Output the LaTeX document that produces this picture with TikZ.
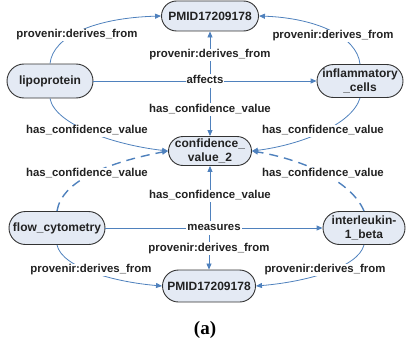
\documentclass[tikz,border=0pt]{standalone}
\usepackage{fontspec}
\setmainfont{Liberation Sans}
\newfontfamily\capfont{Liberation Serif}
\usetikzlibrary{arrows.meta,shapes.misc}
\definecolor{edgeblue}{RGB}{79,129,189}
\definecolor{nodefill}{RGB}{228,234,244}
\definecolor{txt}{RGB}{34,34,34}
\begin{document}
\begin{tikzpicture}[x=1pt,y=-1pt,
  box/.style={rounded rectangle, draw=black!80, line width=0.9pt, fill=nodefill,
    font=\fontsize{12}{14}\selectfont\bfseries, text=txt, align=center, inner sep=0pt},
  lbl/.style={fill=white, inner sep=1pt, text height=8pt, text depth=2.5pt,
    font=\fontsize{11.4}{12}\selectfont\bfseries, text=txt},
  edge/.style={draw=edgeblue, line width=0.8pt, -{Triangle[length=6pt,width=5pt]}},
  hedge/.style={edge, line width=1pt},
  dashedge/.style={edge, line width=1.4pt, dash pattern=on 9pt off 6pt}
]
\useasboundingbox (0,0) rectangle (406,345);

% nodes
\node[box, minimum width=97pt, minimum height=30pt] (pmidT) at (210,16) {PMID17209178};
\node[box, minimum width=86pt, minimum height=34pt] (lipo) at (50,81) {lipoprotein};
\node[box, minimum width=86pt, minimum height=33pt] (infl) at (360,81) {inflammatory\\\_cells};
\node[box, minimum width=78pt, minimum height=29pt] (conf) at (210,151) {confidence\_\\value\_2};
\node[box, minimum width=96pt, minimum height=33pt] (flow) at (57,228) {flow\_cytometry};
\node[box, minimum width=82pt, minimum height=33pt] (ilb) at (364,228) {interleukin-\\1\_beta};
\node[box, minimum width=93pt, minimum height=32pt] (pmidB) at (209,286) {PMID17209178};

% curved edges
\draw[edge] (lipo.north) .. controls (53,36) and (95,18) .. (pmidT.west);
\draw[edge] (infl.north) .. controls (357,36) and (315,18) .. (pmidT.east);
\draw[edge] (lipo.south) .. controls (55,125) and (115,145) .. (conf.west);
\draw[edge] (infl.south) .. controls (352,125) and (300,145) .. (conf.east);
\draw[dashedge] (flow.north) .. controls (62,180) and (110,162) .. (conf.west);
\draw[dashedge] (ilb.north) .. controls (352,182) and (305,160) .. (conf.east);
\draw[edge] (flow.south) .. controls (62,268) and (115,282) .. (pmidB.west);
\draw[edge] (ilb.south) .. controls (358,268) and (305,282) .. (pmidB.east);

% reified statements
\draw[hedge] (lipo.east) -- (infl.west) node[lbl, midway] (aff) {affects};
\draw[edge] (aff.north -| pmidT.south) -- (pmidT.south)
  node[lbl, pos=0.45] (aff1) {provenir:derives\_from};
\draw[edge] (aff.south -| conf.north) -- (conf.north)
  node[lbl, pos=0.45] (aff2) {has\_confidence\_value};

\draw[hedge] (flow.east) -- (ilb.west) node[lbl, midway] (meas) {measures};
\draw[edge] (meas.north -| conf.south) -- (conf.south)
  node[lbl, pos=0.46] (meas1) {has\_confidence\_value};
\draw[edge] (meas.south -| pmidB.north) -- (pmidB.north)
  node[lbl, pos=0.39] (meas2) {provenir:derives\_from};

% labels of curved edges
\node[lbl] (l1) at (77,35) {provenir:derives\_from};
\node[lbl] (l2) at (333,36) {provenir:derives\_from};
\node[lbl] (l3) at (87,131) {has\_confidence\_value};
\node[lbl] (l4) at (87,174) {has\_confidence\_value};
\node[lbl] (l5) at (323,131) {has\_confidence\_value};
\node[lbl] (l6) at (323,174) {has\_confidence\_value};
\node[lbl] (l7) at (91,270) {provenir:derives\_from};
\node[lbl] (l8) at (325,270) {provenir:derives\_from};

\node[font=\capfont\bfseries\fontsize{19}{22}\selectfont, text=black] (cap) at (205,330) {(a)};
\end{tikzpicture}
\end{document}
